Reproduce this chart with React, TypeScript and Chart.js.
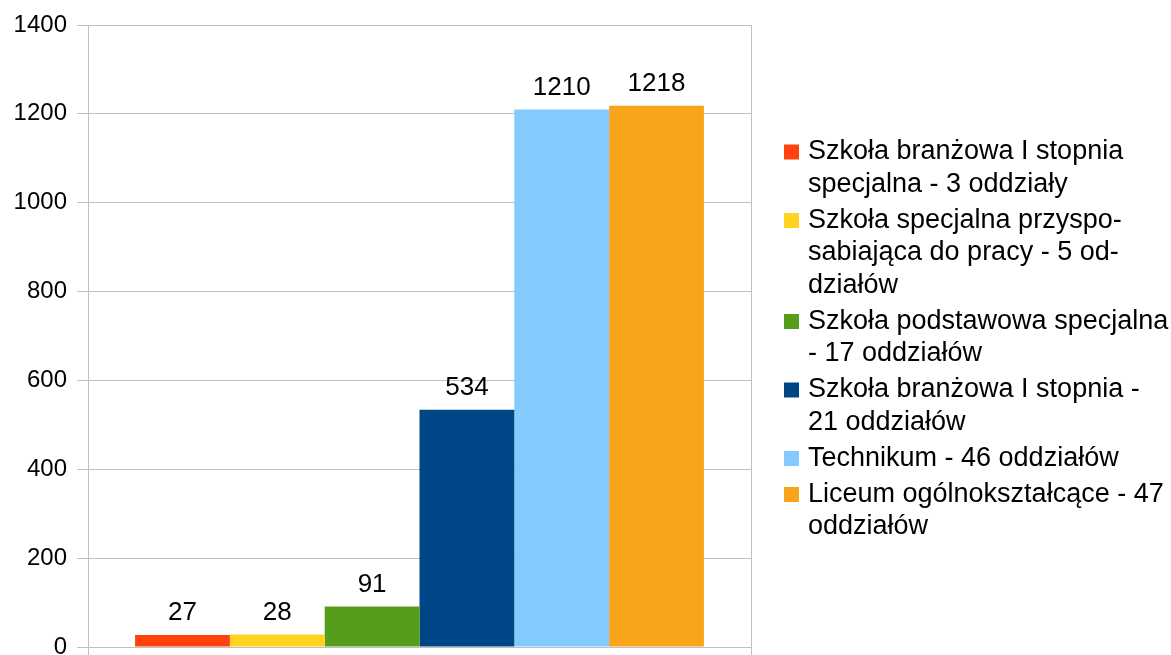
import React, { useEffect, useRef } from "react";
import { Chart, registerables } from "chart.js";

Chart.register(...registerables);

const categories = [""];
const seriesLabels = [
  "Szkoła branżowa I stopnia specjalna - 3 oddziały",
  "Szkoła specjalna przysposabiająca do pracy - 5 oddziałów",
  "Szkoła podstawowa specjalna - 17 oddziałów",
  "Szkoła branżowa I stopnia - 21 oddziałów",
  "Technikum - 46 oddziałów",
  "Liceum ogólnokształcące - 47 oddziałów",
];
const legendLines = [
  ["Szkoła branżowa I stopnia", "specjalna - 3 oddziały"],
  ["Szkoła specjalna przyspo-", "sabiająca do pracy - 5 od-", "działów"],
  ["Szkoła podstawowa specjalna", "- 17 oddziałów"],
  ["Szkoła branżowa I stopnia -", "21 oddziałów"],
  ["Technikum - 46 oddziałów"],
  ["Liceum ogólnokształcące - 47", "oddziałów"],
];
const seriesValues = [27, 28, 91, 534, 1210, 1218];
const seriesColors = ["#ff420e", "#ffd320", "#579d1c", "#004586", "#83caff", "#f8a51c"];
const yTicks = [0, 200, 400, 600, 800, 1000, 1200, 1400];

const FONT = "'Liberation Sans', Arial, sans-serif";

const valueLabels = {
  id: "valueLabels",
  afterDatasetsDraw(chart: any) {
    const ctx = chart.ctx;
    ctx.save();
    ctx.font = `26px ${FONT}`;
    ctx.fillStyle = "#000";
    ctx.textAlign = "center";
    ctx.textBaseline = "middle";
    chart.data.datasets.forEach((ds: any, i: number) => {
      const meta = chart.getDatasetMeta(i);
      meta.data.forEach((bar: any, j: number) => {
        ctx.fillText(String(ds.data[j]), bar.x, bar.y - 22);
      });
    });
    ctx.restore();
  },
};

const sideLegend = {
  id: "sideLegend",
  afterDraw(chart: any) {
    const ctx = chart.ctx;
    ctx.save();
    ctx.font = `27px ${FONT}`;
    ctx.textBaseline = "middle";
    ctx.textAlign = "left";
    const lineH = 32.5;
    const gap = 3.5;
    let y = 152;
    legendLines.forEach((lines, i) => {
      ctx.fillStyle = seriesColors[i];
      ctx.fillRect(784, y - 7.5, 15, 15);
      ctx.fillStyle = "#000";
      lines.forEach((ln, k) => {
        ctx.fillText(ln, 808, y + k * lineH);
      });
      y += lines.length * lineH + gap;
    });
    ctx.restore();
  },
};

export default function App() {
  const ref = useRef<HTMLCanvasElement>(null);
  useEffect(() => {
    document.body.style.margin = "0";
    const chart = new Chart(ref.current!, {
      type: "bar",
      data: {
        labels: categories,
        datasets: seriesLabels.map((label, i) => ({
          label,
          data: [seriesValues[i]],
          backgroundColor: seriesColors[i],
          borderWidth: 0,
          barPercentage: 1,
          categoryPercentage: 0.858,
        })),
      },
      options: {
        responsive: false,
        animation: false,
        layout: { padding: { left: 0, top: 25, right: 420, bottom: 0 } },
        plugins: { legend: { display: false }, tooltip: { enabled: false } },
        scales: {
          x: {
            offset: true,
            grid: { display: true, color: "#c0c0c0", lineWidth: 1, tickLength: 8, offset: true },
            border: { display: true, color: "#c0c0c0" },
            ticks: { display: false },
            afterFit(scale: any) {
              scale.height = 8;
              scale.paddingLeft = 0;
              scale.paddingRight = 0;
            },
          },
          y: {
            min: 0,
            max: 1400,
            afterBuildTicks(scale: any) {
              scale.ticks = yTicks.map((v) => ({ value: v }));
            },
            grid: { color: "#c0c0c0", lineWidth: 1, tickLength: 11 },
            border: { display: true, color: "#c0c0c0" },
            ticks: {
              color: "#000",
              padding: 10,
              font: { family: FONT, size: 24 },
              callback: (v: any) => String(v),
            },
            afterFit(scale: any) {
              scale.width = 88;
              scale.paddingTop = 0;
              scale.paddingBottom = 0;
            },
          },
        },
      },
      plugins: [valueLabels, sideLegend],
    });
    return () => chart.destroy();
  }, []);
  return <canvas ref={ref} width={1171} height={655} style={{ display: "block" }} />;
}
